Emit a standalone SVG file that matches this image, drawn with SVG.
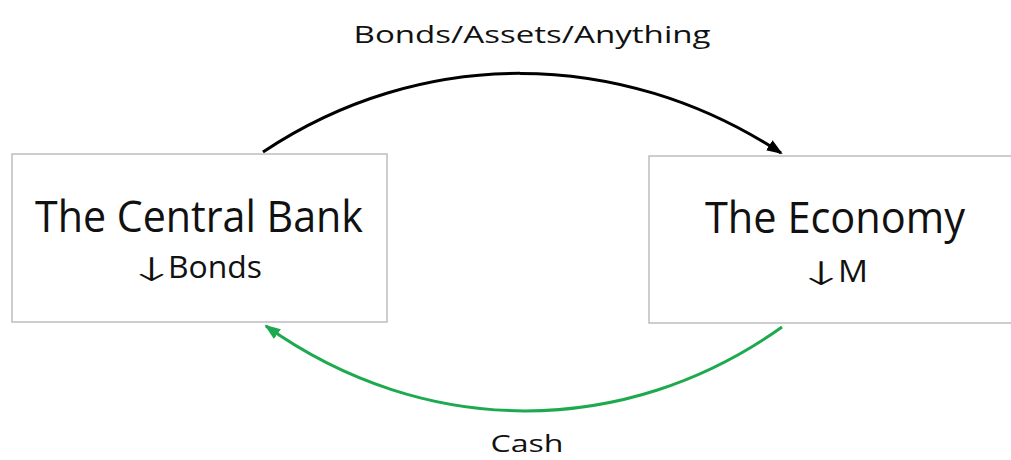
<svg xmlns="http://www.w3.org/2000/svg" width="1011" height="460" viewBox="0 0 1011 460">
<style>
.box{fill:#fff;stroke:#bdbdbd;stroke-width:1.5}
.t{font-family:"Open Sans","Noto Sans",sans-serif;fill:#111;text-anchor:middle}
.s{font-family:"Open Sans","Noto Sans",sans-serif;fill:#111;text-anchor:start;font-size:31px}
.ar{font-family:"DejaVu Sans ExtraLight","DejaVu Sans",sans-serif;font-weight:200;fill:#111;text-anchor:start;font-size:32px;letter-spacing:-14px}
.big{font-size:44px}
.lbl{font-size:24px}
</style>
<defs>
<marker id="ab" markerUnits="userSpaceOnUse" markerWidth="16" markerHeight="12" refX="14" refY="6" orient="auto"><path d="M0,0 L16,6 L0,12 Z" fill="#000"/></marker>
<marker id="ag" markerUnits="userSpaceOnUse" markerWidth="16" markerHeight="12" refX="14" refY="6" orient="auto"><path d="M0,0 L16,6 L0,12 Z" fill="#1DAA4F"/></marker>
</defs>
<rect width="1011" height="460" fill="#fff"/>
<g id="central-bank">
<rect class="box" x="12" y="154" width="375" height="168"/>
<text class="t big" x="199" y="232" textLength="328" lengthAdjust="spacingAndGlyphs">The Central Bank</text>
<text class="ar" transform="translate(126,281) scale(1.9,1.02)" x="0" y="0">↓</text>
<text class="s" x="168" y="278" textLength="94" lengthAdjust="spacingAndGlyphs">Bonds</text>
</g>
<g id="economy">
<rect class="box" x="649" y="156" width="380" height="167"/>
<text class="t big" x="835" y="233" textLength="260" lengthAdjust="spacingAndGlyphs">The Economy</text>
<text class="ar" transform="translate(795.5,285) scale(1.9,1.02)" x="0" y="0">↓</text>
<text class="s" x="838" y="282" textLength="30" lengthAdjust="spacingAndGlyphs">M</text>
</g>
<g id="connectors">
<path d="M263,152 C420,47 620,47 781,153" fill="none" stroke="#000" stroke-width="3" marker-end="url(#ab)"/>
<path d="M782,327 C625,439 425,439 266,326" fill="none" stroke="#1DAA4F" stroke-width="3" marker-end="url(#ag)"/>
<text class="t lbl" x="532" y="43" textLength="357" lengthAdjust="spacingAndGlyphs">Bonds/Assets/Anything</text>
<text class="t lbl" x="527" y="452" textLength="73" lengthAdjust="spacingAndGlyphs">Cash</text>
</g>
</svg>
